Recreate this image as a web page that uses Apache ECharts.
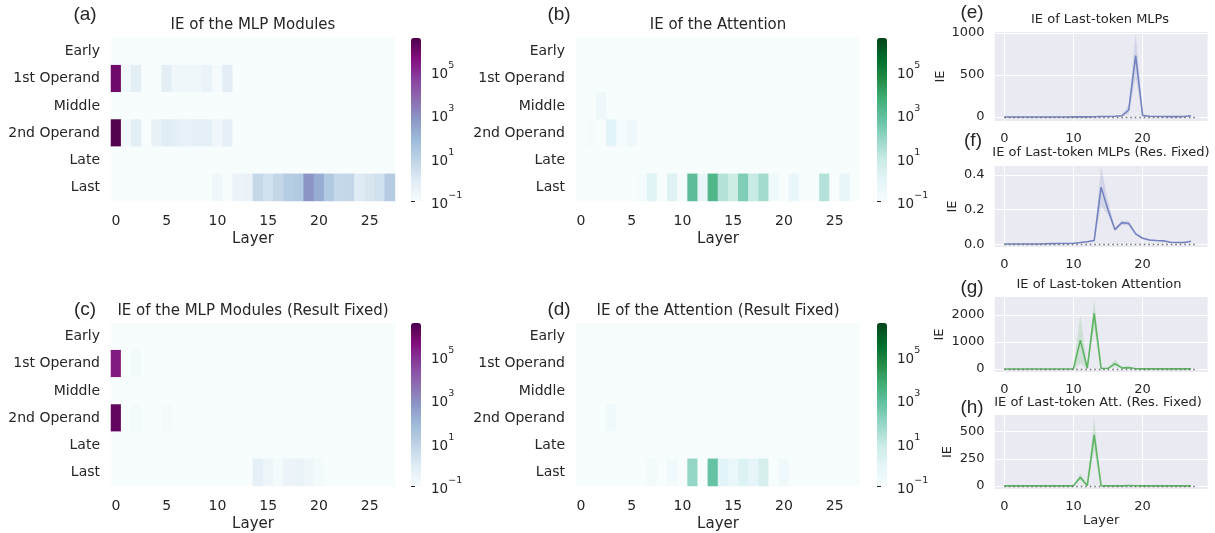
<!DOCTYPE html>
<html><head><meta charset="utf-8">
<script src="https://cdn.jsdelivr.net/npm/echarts@6/dist/echarts.min.js"></script>
<style>html,body{margin:0;padding:0;background:#fff}#c{width:1215px;height:533px}</style>
</head><body><div id="c"></div>
<script>
// ---------------- DATA ----------------
const layers = [0,1,2,3,4,5,6,7,8,9,10,11,12,13,14,15,16,17,18,19,20,21,22,23,24,25,26,27];
const positions = ['Early','1st Operand','Middle','2nd Operand','Late','Last'];
const cbTickExps = [-1, 1, 3, 5];
const lineXTicks = [0, 10, 20];
const zeroSpan = [0, 28];

// (a) IE of the MLP Modules  (rows: Early, 1st Operand, Middle, 2nd Operand, Late, Last)
const mlpEarly  = [0.01,0.01,0.01,0.01,0.01,0.01,0.01,0.01,0.01,0.01,0.01,0.01,0.01,0.01,0.01,0.01,0.01,0.01,0.01,0.01,0.01,0.01,0.01,0.01,0.01,0.01,0.01,0.01];
const mlpOp1    = [8e5,0.17,0.65,0.02,0.02,0.65,0.19,0.19,0.19,0.33,0.12,0.75,0.01,0.01,0.01,0.01,0.01,0.01,0.01,0.01,0.01,0.01,0.01,0.01,0.01,0.01,0.01,0.01];
const mlpMiddle = [0.01,0.01,0.01,0.01,0.01,0.01,0.01,0.01,0.01,0.01,0.01,0.01,0.01,0.01,0.01,0.01,0.01,0.01,0.01,0.01,0.01,0.01,0.01,0.01,0.01,0.01,0.01,0.01];
const mlpOp2    = [2.5e6,0.17,0.65,0.03,0.4,0.8,0.55,0.42,0.55,0.55,0.2,0.6,0.01,0.01,0.01,0.01,0.01,0.01,0.01,0.01,0.01,0.01,0.01,0.01,0.01,0.01,0.01,0.01];
const mlpLate   = [0.01,0.01,0.01,0.01,0.01,0.01,0.01,0.01,0.01,0.01,0.01,0.01,0.01,0.01,0.01,0.01,0.01,0.01,0.01,0.01,0.01,0.01,0.01,0.01,0.01,0.01,0.01,0.01];
const mlpLast   = [0.01,0.01,0.01,0.01,0.01,0.01,0.01,0.01,0.01,0.01,0.2,0.05,0.28,0.4,5,2.5,5.5,14,17,600,160,17,5,5.5,0.9,1.5,2.5,14];

// (b) IE of the Attention
const attEarly  = [0.01,0.01,0.01,0.01,0.01,0.01,0.01,0.01,0.01,0.01,0.01,0.01,0.01,0.01,0.01,0.01,0.01,0.01,0.01,0.01,0.01,0.01,0.01,0.01,0.01,0.01,0.01,0.01];
const attOp1    = [0.01,0.01,0.01,0.01,0.01,0.01,0.01,0.01,0.01,0.01,0.01,0.01,0.01,0.01,0.01,0.01,0.01,0.01,0.01,0.01,0.01,0.01,0.01,0.01,0.01,0.01,0.01,0.01];
const attMiddle = [0.01,0.01,0.3,0.01,0.01,0.01,0.01,0.01,0.01,0.01,0.01,0.01,0.01,0.01,0.01,0.01,0.01,0.01,0.01,0.01,0.01,0.01,0.01,0.01,0.01,0.01,0.01,0.01];
const attOp2    = [0.01,0.13,0.01,1.1,0.15,0.3,0.01,0.01,0.01,0.01,0.01,0.01,0.01,0.01,0.01,0.01,0.01,0.01,0.01,0.01,0.01,0.01,0.01,0.01,0.01,0.01,0.01,0.01];
const attLate   = [0.01,0.01,0.01,0.01,0.01,0.01,0.01,0.01,0.01,0.01,0.01,0.01,0.01,0.01,0.01,0.01,0.01,0.01,0.01,0.01,0.01,0.01,0.01,0.01,0.01,0.01,0.01,0.01];
const attLast   = [0.01,0.01,0.01,0.01,0.01,0.01,0.15,1.3,0.05,1.5,0.12,950,0.6,1900,21,7.5,200,9,43,0.25,0.01,0.56,0.01,0.01,21,0.01,0.6,0.01];

// (c) IE of the MLP Modules (Result Fixed)
const mlpFxEarly  = [0.01,0.01,0.01,0.01,0.01,0.01,0.01,0.01,0.01,0.01,0.01,0.01,0.01,0.01,0.01,0.01,0.01,0.01,0.01,0.01,0.01,0.01,0.01,0.01,0.01,0.01,0.01,0.01];
const mlpFxOp1    = [2.3e5,0.01,0.16,0.01,0.01,0.01,0.01,0.01,0.01,0.01,0.01,0.01,0.01,0.01,0.01,0.01,0.01,0.01,0.01,0.01,0.01,0.01,0.01,0.01,0.01,0.01,0.01,0.01];
const mlpFxMiddle = [0.01,0.01,0.01,0.01,0.01,0.01,0.01,0.01,0.01,0.01,0.01,0.01,0.01,0.01,0.01,0.01,0.01,0.01,0.01,0.01,0.01,0.01,0.01,0.01,0.01,0.01,0.01,0.01];
const mlpFxOp2    = [1.3e6,0.01,0.14,0.01,0.01,0.13,0.01,0.01,0.01,0.01,0.01,0.01,0.01,0.01,0.01,0.01,0.01,0.01,0.01,0.01,0.01,0.01,0.01,0.01,0.01,0.01,0.01,0.01];
const mlpFxLate   = [0.01,0.01,0.01,0.01,0.01,0.01,0.01,0.01,0.01,0.01,0.01,0.01,0.01,0.01,0.01,0.01,0.01,0.01,0.01,0.01,0.01,0.01,0.01,0.01,0.01,0.01,0.01,0.01];
const mlpFxLast   = [0.01,0.01,0.01,0.01,0.01,0.01,0.01,0.01,0.01,0.01,0.01,0.01,0.01,0.01,0.55,0.25,0.14,0.28,0.33,0.22,0.14,0.01,0.01,0.01,0.01,0.01,0.01,0.01];

// (d) IE of the Attention (Result Fixed)
const attFxEarly  = [0.01,0.01,0.01,0.01,0.01,0.01,0.01,0.01,0.01,0.01,0.01,0.01,0.01,0.01,0.01,0.01,0.01,0.01,0.01,0.01,0.01,0.01,0.01,0.01,0.01,0.01,0.01,0.01];
const attFxOp1    = [0.01,0.01,0.01,0.01,0.01,0.01,0.01,0.01,0.01,0.01,0.01,0.01,0.01,0.01,0.01,0.01,0.01,0.01,0.01,0.01,0.01,0.01,0.01,0.01,0.01,0.01,0.01,0.01];
const attFxMiddle = [0.01,0.01,0.01,0.01,0.01,0.01,0.01,0.01,0.01,0.01,0.01,0.01,0.01,0.01,0.01,0.01,0.01,0.01,0.01,0.01,0.01,0.01,0.01,0.01,0.01,0.01,0.01,0.01];
const attFxOp2    = [0.01,0.01,0.01,0.25,0.01,0.01,0.01,0.01,0.01,0.01,0.01,0.01,0.01,0.01,0.01,0.01,0.01,0.01,0.01,0.01,0.01,0.01,0.01,0.01,0.01,0.01,0.01,0.01];
const attFxLate   = [0.01,0.01,0.01,0.01,0.01,0.01,0.01,0.01,0.01,0.01,0.01,0.01,0.01,0.01,0.01,0.01,0.01,0.01,0.01,0.01,0.01,0.01,0.01,0.01,0.01,0.01,0.01,0.01];
const attFxLast   = [0.01,0.01,0.01,0.01,0.01,0.01,0.01,0.17,0.01,0.22,0.01,80,0.01,560,1.1,0.55,1.8,0.85,3.3,0.01,0.25,0.01,0.01,0.01,0.01,0.01,0.01,0.01];

// (e) IE of Last-token MLPs: mean and confidence band
const eMean = [0.5,0.5,0.5,0.5,0.5,0.5,0.5,0.5,0.5,0.5,0.8,1,1.5,2,5,5,8,14,83,730,18,8,5,5,4,4,6,14];
const eLow  = [0,0,0,0,0,0,0,0,0,0,0.3,0.5,0.8,1,3,3,5,9,40,470,10,5,3,3,2,2,3,8];
const eHigh = [1,1,1,1,1,1,1,1,1,1,1.5,2,3,4,8,8,12,22,150,1000,35,12,8,8,7,7,10,22];
// (f) IE of Last-token MLPs (Res. Fixed)
const fMean = [0.002,0.002,0.002,0.002,0.002,0.002,0.003,0.004,0.005,0.005,0.006,0.01,0.015,0.022,0.33,0.2,0.085,0.125,0.12,0.06,0.035,0.025,0.022,0.02,0.012,0.01,0.01,0.018];
const fLow  = [0.001,0.001,0.001,0.001,0.001,0.001,0.002,0.003,0.004,0.004,0.005,0.008,0.012,0.018,0.22,0.17,0.075,0.112,0.108,0.052,0.03,0.021,0.019,0.017,0.01,0.008,0.008,0.015];
const fHigh = [0.003,0.003,0.003,0.003,0.003,0.003,0.004,0.005,0.006,0.006,0.007,0.012,0.018,0.026,0.45,0.25,0.095,0.138,0.135,0.068,0.04,0.029,0.025,0.023,0.014,0.012,0.012,0.021];
// (g) IE of Last-token Attention
const gMean = [2,2,2,2,2,2,2,2,2,2,3,1070,30,2060,25,20,200,40,50,8,5,5,5,5,5,5,5,5];
const gLow  = [0,0,0,0,0,0,0,0,0,0,1,200,10,1500,10,8,100,20,25,3,2,2,2,2,2,2,2,2];
const gHigh = [4,4,4,4,4,4,4,4,4,4,6,2000,60,2600,45,40,350,70,80,15,9,9,9,9,9,9,9,9];
// (h) IE of Last-token Att. (Res. Fixed)
const hMean = [1,1,1,1,1,1,1,1,1,1,1,80,3,470,2,1,1,1,3,2,1,1,1,1,1,1,1,1];
const hLow  = [0,0,0,0,0,0,0,0,0,0,0,55,1,330,1,0,0,0,1,1,0,0,0,0,0,0,0,0];
const hHigh = [2,2,2,2,2,2,2,2,2,2,2,115,6,630,4,2,2,2,6,4,2,2,2,2,2,2,2,2];

// ---------------- STYLE / LAYOUT ----------------
const BuPu = ['#f7fcfd','#e0ecf4','#bfd3e6','#9ebcda','#8c96c6','#8c6bb1','#88419d','#810f7c','#4d004b'];
const BuGn = ['#f7fcfd','#e5f5f9','#ccece6','#99d8c9','#66c2a4','#41ae76','#238b45','#006d2c','#00441b'];
const TXT = '#262626';
const FONT = 'DejaVu Sans';
const LOGMIN = -1, LOGMAX = 6.5;

const heatPanels = [
  {rows:[mlpEarly,mlpOp1,mlpMiddle,mlpOp2,mlpLate,mlpLast], cmap:BuPu, left:111, top:38, cb:411},
  {rows:[attEarly,attOp1,attMiddle,attOp2,attLate,attLast], cmap:BuGn, left:576, top:38, cb:877},
  {rows:[mlpFxEarly,mlpFxOp1,mlpFxMiddle,mlpFxOp2,mlpFxLate,mlpFxLast], cmap:BuPu, left:111, top:323, cb:411},
  {rows:[attFxEarly,attFxOp1,attFxMiddle,attFxOp2,attFxLate,attFxLast], cmap:BuGn, left:576, top:323, cb:877}
];
const HW = 284, HH = 163;

const PURPLE = '#7483c0', GREEN = '#5db462';
const linePanels = [
  {mean:eMean, low:eLow, high:eHigh, color:PURPLE, top:32, h:89, min:-48, max:1012, ticks:[0,500,1000], dec:0, gap:45},
  {mean:fMean, low:fLow, high:fHigh, color:PURPLE, top:166, h:81, min:-0.0156, max:0.452, ticks:[0,0.2,0.4], dec:1, gap:35},
  {mean:gMean, low:gLow, high:gHigh, color:GREEN, top:297, h:75, min:-111, max:2667, ticks:[0,1000,2000], dec:0, gap:48},
  {mean:hMean, low:hLow, high:hHigh, color:GREEN, top:415, h:74, min:-28, max:654, ticks:[0,250,500], dec:0, gap:40, xName:'Layer'}
];
const LL = 994.6, LW = 213;

const grid = [], xAxis = [], yAxis = [], series = [], visualMap = [];

// heatmaps
heatPanels.forEach((p, i) => {
  grid.push({left:p.left, top:p.top, width:HW, height:HH});
  xAxis.push({type:'category', gridIndex:i, data:layers, axisLine:{show:false}, axisTick:{show:false},
    axisLabel:{interval:4, color:TXT, fontSize:14, fontFamily:FONT, margin:13},
    name:'Layer', nameLocation:'middle', nameGap:31, nameTextStyle:{color:TXT, fontSize:15, fontFamily:FONT}});
  yAxis.push({type:'category', gridIndex:i, data:positions, inverse:true, axisLine:{show:false}, axisTick:{show:false},
    axisLabel:{color:TXT, fontSize:14, fontFamily:FONT, margin:11}});
  const data = [];
  p.rows.forEach((row, r) => row.forEach((v, c) => {
    data.push([layers[c], positions[r], Math.max(LOGMIN, Math.min(LOGMAX, Math.log10(v)))]);
  }));
  series.push({type:'heatmap', xAxisIndex:i, yAxisIndex:i, data:data, silent:true, itemStyle:{borderWidth:0}});
  visualMap.push({type:'continuous', seriesIndex:i, dimension:2, min:LOGMIN, max:LOGMAX, calculable:false,
    orient:'vertical', left:p.cb, top:p.top, itemWidth:10, itemHeight:HH, padding:0, text:null,
    hoverLink:false, inRange:{color:p.cmap}});
});
// colorbar axes
heatPanels.forEach((p, i) => {
  const gi = 4 + i;
  grid.push({left:p.cb, top:p.top, width:10, height:HH});
  xAxis.push({type:'value', gridIndex:gi, show:false, min:0, max:1});
  yAxis.push({type:'value', gridIndex:gi, position:'right', min:LOGMIN, max:LOGMAX,
    axisLine:{show:false}, splitLine:{show:false},
    axisTick:{show:true, length:4, customValues:cbTickExps, lineStyle:{color:TXT, width:1}},
    axisLabel:{customValues:cbTickExps, margin:10, color:TXT, fontFamily:FONT,
      formatter: v => '{b|10}{s|' + (v < 0 ? '\u22121' : v) + '}',
      rich:{b:{fontSize:13.5, fontFamily:FONT, color:TXT, lineHeight:21, verticalAlign:'bottom'},
            s:{fontSize:9.5, fontFamily:FONT, color:TXT, verticalAlign:'top'}}}});
});
// line charts
linePanels.forEach((p, i) => {
  const gi = 8 + i;
  grid.push({left:LL, top:p.top, width:LW, height:p.h, show:true, backgroundColor:'#eaeaf2', borderWidth:0});
  xAxis.push({type:'value', gridIndex:gi, min:-1.4, max:29.4, axisLine:{show:false},
    axisTick:{show:false, customValues:lineXTicks},
    axisLabel:{customValues:lineXTicks, color:TXT, fontSize:13, fontFamily:FONT, margin:11},
    splitLine:{show:true, lineStyle:{color:'#ffffff', width:1}},
    name:p.xName || '', nameLocation:'middle', nameGap:25, nameTextStyle:{color:TXT, fontSize:13, fontFamily:FONT}});
  yAxis.push({type:'value', gridIndex:gi, min:p.min, max:p.max, axisLine:{show:false},
    axisTick:{show:false, customValues:p.ticks},
    axisLabel:{customValues:p.ticks, color:TXT, fontSize:13, fontFamily:FONT, margin:10,
      formatter: v => v.toFixed(p.dec)},
    splitLine:{show:true, lineStyle:{color:'#ffffff', width:1}},
    name:'IE', nameLocation:'middle', nameGap:p.gap, nameRotate:90,
    nameTextStyle:{color:TXT, fontSize:13, fontFamily:FONT}});
  // confidence band drawn as one polygon through the axis scales
  series.push({type:'custom', xAxisIndex:gi, yAxisIndex:gi, silent:true, z:1,
    data: layers.map((x, k) => [x, p.low[k], p.high[k]]),
    encode:{x:0, y:[1,2]},
    renderItem: (params, api) => {
      if (params.dataIndex !== 0) return null;
      const pts = [];
      for (let k = 0; k < layers.length; k++) pts.push(api.coord([layers[k], p.high[k]]));
      for (let k = layers.length - 1; k >= 0; k--) pts.push(api.coord([layers[k], p.low[k]]));
      return {type:'polygon', shape:{points:pts}, style:{fill:p.color, opacity:0.2}};
    }});
  series.push({type:'line', xAxisIndex:gi, yAxisIndex:gi, symbol:'none', silent:true,
    lineStyle:{color:p.color, width:1.6}, z:3,
    data: layers.map((x, k) => [x, p.mean[k]]),
    markLine:{silent:true, symbol:'none', label:{show:false}, z:4,
      lineStyle:{color:'#707070', type:[1.5,3], width:1.3},
      data:[[{coord:[zeroSpan[0],0]},{coord:[zeroSpan[1],0]}]]}});
});

// titles and panel labels as text
const t = (x, y, text, size, family) => ({type:'text', x:x, y:y, silent:true,
  style:{text:text, fill:TXT, font: size + 'px "' + family + '"', align:'center', verticalAlign:'middle'}});
const graphic = [
  t(85, 15, '(a)', 19, 'Liberation Sans'), t(559, 15, '(b)', 19, 'Liberation Sans'),
  t(85, 310, '(c)', 19, 'Liberation Sans'), t(559, 310, '(d)', 19, 'Liberation Sans'),
  t(972, 13, '(e)', 19, 'Liberation Sans'), t(973, 141, '(f)', 19, 'Liberation Sans'),
  t(972, 288, '(g)', 19, 'Liberation Sans'), t(972, 408, '(h)', 19, 'Liberation Sans'),
  t(253, 25, 'IE of the MLP Modules', 15, FONT), t(718, 25, 'IE of the Attention', 15, FONT),
  t(253, 311, 'IE of the MLP Modules (Result Fixed)', 15, FONT), t(718, 311, 'IE of the Attention (Result Fixed)', 15, FONT),
  t(1100, 20, 'IE of Last-token MLPs', 13, FONT), t(1101, 153, 'IE of Last-token MLPs (Res. Fixed)', 13, FONT),
  t(1099, 285, 'IE of Last-token Attention', 13, FONT), t(1098, 403, 'IE of Last-token Att. (Res. Fixed)', 13, FONT)
];

const chart = echarts.init(document.getElementById('c'), null, {renderer:'canvas'});
chart.setOption({
  animation:false, backgroundColor:'#ffffff',
  textStyle:{fontFamily:FONT},
  grid, xAxis, yAxis, series, visualMap, graphic
});
</script></body></html>
